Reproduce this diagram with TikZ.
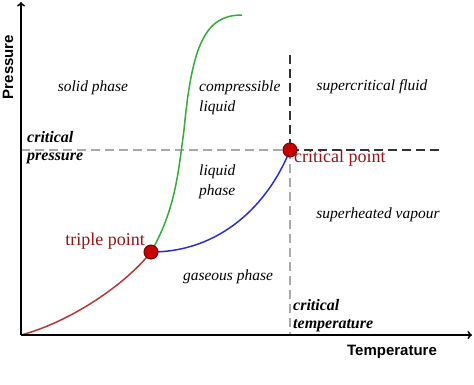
\documentclass[tikz,border=0pt]{standalone}
\usepackage{fontspec}
\setmainfont{Liberation Serif}
\newfontfamily\axisfont{Liberation Sans}
\pgfdeclarelayer{edgelayer}
\pgfdeclarelayer{nodelayer}
\pgfsetlayers{edgelayer,nodelayer,main}
\definecolor{pointfill}{RGB}{200,0,0}
\definecolor{pointdraw}{RGB}{110,10,10}
\definecolor{pointtext}{RGB}{150,20,25}
\definecolor{solidline}{RGB}{185,55,55}
\definecolor{meltline}{RGB}{55,170,55}
\definecolor{boilline}{RGB}{45,45,215}
\definecolor{critgray}{RGB}{170,170,170}
\tikzstyle{none}=[inner sep=0pt]
\tikzstyle{point}=[circle, fill=pointfill, draw=pointdraw, line width=1pt, minimum size=14pt, inner sep=0pt]
\tikzstyle{phase}=[inner sep=0pt, align=left, font=\fontsize{15.5}{20}\selectfont\itshape]
\tikzstyle{critical}=[inner sep=0pt, align=left, font=\fontsize{16}{18}\selectfont\bfseries\itshape]
\tikzstyle{pointlabel}=[inner sep=0pt, text=pointtext, font=\fontsize{18}{20}\selectfont]
\tikzstyle{axislabel}=[inner sep=0pt, font=\fontsize{15}{18}\selectfont\axisfont\bfseries]
\tikzstyle{axis}=[draw=black, line width=1.8pt, ->]
\tikzstyle{curve}=[line width=1.5pt]
\tikzstyle{graydash}=[draw=critgray, line width=2pt, dash pattern=on 9pt off 5pt]
\tikzstyle{blackdash}=[draw=black!80, line width=1.6pt, dash pattern=on 9pt off 5pt]

\begin{document}
\begin{tikzpicture}[x=1pt, y=-1pt]
	\useasboundingbox (0, 0) rectangle (474, 384);
	\begin{pgfonlayer}{nodelayer}
		\coordinate (0) at (21, 335);
		\node [style=point] (1) at (151, 252) {};
		\node [style=point] (2) at (290, 150) {};
		\coordinate (3) at (242, 15);
		\coordinate (4) at (184, 130);
		\coordinate (5) at (21, 2);
		\coordinate (6) at (472, 335);
		\coordinate (7) at (21, 150);
		\coordinate (8) at (440, 150);
		\coordinate (9) at (290, 55);
		\coordinate (10) at (290, 335);
		\node [style=phase, anchor=center] (11) at (93, 88) {solid phase};
		\node [style=phase, anchor=west] (12) at (199, 98) {compressible\\liquid};
		\node [style=phase, anchor=center] (13) at (372, 87) {supercritical fluid};
		\node [style=critical, anchor=west] (14) at (27, 148) {critical\\pressure};
		\node [style=phase, anchor=west] (15) at (199, 182) {liquid\\phase};
		\node [style=pointlabel, anchor=west] (16) at (294, 158) {critical point};
		\node [style=pointlabel, anchor=east] (17) at (145, 241) {triple point};
		\node [style=phase, anchor=center] (18) at (228, 277) {gaseous phase};
		\node [style=phase, anchor=center] (19) at (378, 215) {superheated vapour};
		\node [style=critical, anchor=west] (20) at (293, 316) {critical\\temperature};
		\node [style=axislabel, rotate=90] (21) at (8, 67) {Pressure};
		\node [style=axislabel] (22) at (392, 352) {Temperature};
	\end{pgfonlayer}
	\begin{pgfonlayer}{edgelayer}
		\draw [style=graydash] (7) to (2.center);
		\draw [style=blackdash] (2.center) to (8);
		\draw [style=blackdash] (9) to (2.center);
		\draw [style=graydash] (2.center) to (10);
		\draw [style=curve, draw=solidline] (0) .. controls (70, 322) and (125, 285) .. (1.center);
		\draw [style=curve, draw=boilline] (1.center) .. controls (220, 252) and (268, 205) .. (2.center);
		\draw [style=curve, draw=meltline] (1.center) .. controls (175, 210) and (178, 175) .. (4)
			.. controls (192, 45) and (205, 15) .. (3);
		\draw [style=axis] (0) to (5);
		\draw [style=axis] (0) to (6);
	\end{pgfonlayer}
\end{tikzpicture}
\end{document}
